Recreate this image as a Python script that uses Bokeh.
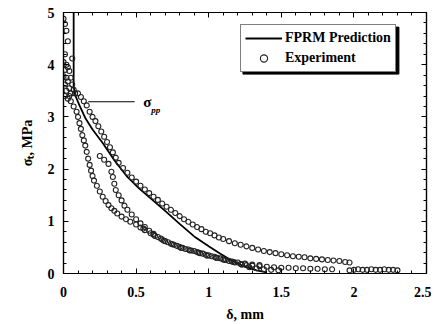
from bokeh.plotting import figure
from bokeh.models import (LinearAxis, FixedTicker, CustomJSTickFormatter, Legend,
                          LegendItem, ColumnDataSource, Range1d)
from bokeh.core.properties import value
from bokeh.embed import file_html
from bokeh.resources import INLINE

FONT = "'Liberation Serif', serif"

# ---- axis ticks ----
x_major = [0, 0.5, 1, 1.5, 2, 2.5]
x_minor = [0.1, 0.2, 0.3, 0.4, 0.6, 0.7, 0.8, 0.9, 1.1, 1.2, 1.3, 1.4,
           1.6, 1.7, 1.8, 1.9, 2.1, 2.2, 2.3, 2.4]
y_major = [0, 1, 2, 3, 4, 5]
y_minor = [0.2, 0.4, 0.6, 0.8, 1.2, 1.4, 1.6, 1.8, 2.2, 2.4, 2.6, 2.8,
           3.2, 3.4, 3.6, 3.8, 4.2, 4.4, 4.6, 4.8]

# ---- FPRM prediction ----
pred_d = [0.07, 0.07, 0.08, 0.11, 0.15, 0.2, 0.27, 0.35, 0.44, 0.52, 0.6,
          0.7, 0.8, 0.9, 1.0, 1.08, 1.17, 1.25, 1.33, 1.4]
pred_s = [5.3, 3.58, 3.42, 3.22, 2.98, 2.76, 2.5, 2.17, 1.85, 1.63, 1.44,
          1.2, 0.95, 0.71, 0.52, 0.38, 0.23, 0.13, 0.06, 0.02]

# ---- experiment ----
expA_d = [0.0, 0.01, 0.02, 0.03, 0.06, 0.01, 0.0, 0.02, 0.03, 0.01, 0.04, 0.0,
          0.02, 0.05, 0.03, 0.01, 0.06, 0.04, 0.02, 0.07, 0.05, 0.01, 0.03, 0.08,
          0.1, 0.12, 0.14, 0.16, 0.18, 0.2, 0.22, 0.24, 0.26, 0.28, 0.3, 0.32,
          0.34, 0.36, 0.38, 0.41, 0.44, 0.47, 0.5, 0.53, 0.56, 0.59, 0.62, 0.65,
          0.68, 0.71, 0.74, 0.77, 0.8, 0.83, 0.86, 0.89, 0.92, 0.95, 0.98, 1.01,
          1.04, 1.07, 1.1, 1.14, 1.18, 1.22, 1.26, 1.3, 1.34, 1.38, 1.42, 1.46,
          1.5, 1.54, 1.58, 1.62, 1.66, 1.7, 1.74, 1.78, 1.82, 1.86, 1.9, 1.94, 1.97]
expA_s = [4.88, 4.78, 4.65, 4.45, 4.12, 4.2, 4.05, 4.0, 3.95, 3.9, 3.88, 3.78,
          3.75, 3.75, 3.68, 3.62, 3.62, 3.55, 3.5, 3.52, 3.45, 3.4, 3.35, 3.45,
          3.45, 3.38, 3.3, 3.22, 3.1, 3.0, 2.92, 2.82, 2.72, 2.62, 2.52, 2.42,
          2.32, 2.22, 2.12, 2.02, 1.93, 1.84, 1.76, 1.68, 1.61, 1.54, 1.47, 1.41,
          1.34, 1.28, 1.22, 1.16, 1.1, 1.04, 0.99, 0.94, 0.89, 0.85, 0.8, 0.77,
          0.73, 0.69, 0.66, 0.62, 0.58, 0.55, 0.52, 0.49, 0.46, 0.43, 0.41, 0.39,
          0.37, 0.35, 0.33, 0.32, 0.31, 0.29, 0.28, 0.27, 0.26, 0.25, 0.24, 0.22, 0.21]

expB_d = [0.04, 0.05, 0.07, 0.09, 0.1, 0.11, 0.12, 0.13, 0.14, 0.15, 0.16, 0.17,
          0.18, 0.19, 0.2, 0.21, 0.23, 0.25, 0.27, 0.29, 0.31, 0.33, 0.35, 0.37,
          0.4, 0.43, 0.46, 0.5, 0.53, 0.56, 0.6, 0.63, 0.67, 0.7, 0.74, 0.78,
          0.82, 0.86, 0.9, 0.94, 0.98, 1.02, 1.06, 1.1, 1.14, 1.18, 1.22, 1.26,
          1.3, 1.35, 1.4, 1.45, 1.5, 1.55, 1.6, 1.65, 1.7, 1.75, 1.8, 1.85]
expB_s = [3.4, 3.3, 3.2, 3.1, 3.0, 2.88, 2.77, 2.65, 2.55, 2.45, 2.33, 2.2,
          2.08, 1.97, 1.87, 1.78, 1.68, 1.57, 1.47, 1.39, 1.31, 1.25, 1.2, 1.15,
          1.09, 1.04, 0.99, 0.94, 0.88, 0.83, 0.77, 0.72, 0.67, 0.62, 0.57, 0.53,
          0.49, 0.46, 0.43, 0.39, 0.36, 0.33, 0.3, 0.27, 0.24, 0.21, 0.18, 0.16,
          0.15, 0.14, 0.13, 0.12, 0.11, 0.11, 0.1, 0.1, 0.09, 0.09, 0.08, 0.08]

expC_d = [0.25, 0.28, 0.31, 0.33, 0.34, 0.35, 0.36, 0.38, 0.4, 0.42, 0.44, 0.47,
          0.5, 0.53, 0.56, 0.59, 0.62, 0.65, 0.68, 0.72, 0.76, 0.8, 0.84, 0.88,
          0.92, 0.96, 1.0, 1.04, 1.08, 1.12, 1.16, 1.2, 1.25, 1.3, 1.35]
expC_s = [2.25, 2.18, 2.1, 1.95, 1.85, 1.72, 1.6, 1.5, 1.4, 1.3, 1.22, 1.13,
          1.04, 0.96, 0.89, 0.82, 0.76, 0.7, 0.65, 0.6, 0.55, 0.51, 0.47, 0.44,
          0.41, 0.38, 0.35, 0.32, 0.29, 0.26, 0.23, 0.21, 0.19, 0.17, 0.16]

# extra scatter inside the dense lower band
expE_d = [0.55, 0.62, 0.69, 0.75, 0.81, 0.87, 0.93, 0.99, 1.05, 1.11, 1.17,
          1.23, 1.28, 1.33, 1.38, 1.43, 1.48]
expE_s = [0.86, 0.74, 0.63, 0.56, 0.49, 0.44, 0.4, 0.34, 0.3, 0.26, 0.22,
          0.17, 0.12, 0.1, 0.08, 0.07, 0.06]

expD_d = [1.97, 2.0, 2.03, 2.06, 2.09, 2.12, 2.15, 2.18, 2.21, 2.24, 2.27, 2.3]
expD_s = [0.06, 0.07, 0.08, 0.07, 0.07, 0.08, 0.07, 0.07, 0.08, 0.07, 0.07, 0.06]

exp_d = expA_d + expB_d + expC_d + expE_d + expD_d
exp_s = expA_s + expB_s + expC_s + expE_s + expD_s

# sigma_pp annotation leader
pp_line_d = [0.17, 0.49]
pp_line_s = [3.29, 3.29]
pp_label_d = 0.55
pp_label_s = 3.29

# legend drop shadow (data-space box behind the legend)
shadow_left, shadow_right = 1.236, 2.31
shadow_bottom, shadow_top = 3.82, 4.72

p = figure(width=431, height=324, output_backend="svg", toolbar_location=None,
           x_range=Range1d(0, 2.5), y_range=Range1d(0, 5),
           min_border_left=63, min_border_right=5, min_border_top=12,
           min_border_bottom=51, background_fill_color="white",
           border_fill_color="white")
p.grid.visible = False
p.outline_line_color = "black"
p.outline_line_width = 1.2

fmt = CustomJSTickFormatter(code="return String(Math.round(tick*10)/10);")
blank = CustomJSTickFormatter(code="return '';")

def style(ax, labels=True):
    ax.axis_line_color = "black"
    ax.axis_line_width = 1.2
    ax.major_tick_in = 5
    ax.major_tick_out = 0
    ax.minor_tick_in = 3
    ax.minor_tick_out = 0
    ax.major_tick_line_color = "black"
    ax.minor_tick_line_color = "black"
    if labels:
        ax.formatter = fmt
        ax.major_label_text_font = FONT
        ax.major_label_text_font_style = "bold"
        ax.major_label_text_font_size = "14px"
        ax.major_label_text_color = "black"
        ax.axis_label_text_font = FONT
        ax.axis_label_text_font_style = "bold"
        ax.axis_label_text_font_size = "14px"
        ax.axis_label_text_color = "black"
    else:
        ax.formatter = blank
        ax.major_label_standoff = 0
        ax.axis_label = None

xt = FixedTicker(ticks=x_major, minor_ticks=x_minor)
yt = FixedTicker(ticks=y_major, minor_ticks=y_minor)

p.xaxis.ticker = xt
p.yaxis.ticker = yt
style(p.xaxis[0])
style(p.yaxis[0])
p.xaxis.axis_label = "δ, mm"
p.yaxis.axis_label = "σₜ, MPa"
p.xaxis.major_label_standoff = 13
p.xaxis.axis_label_standoff = 7
p.yaxis.major_label_standoff = 9
p.yaxis.axis_label_standoff = 10

top_ax = LinearAxis(ticker=FixedTicker(ticks=x_major, minor_ticks=x_minor))
right_ax = LinearAxis(ticker=FixedTicker(ticks=y_major, minor_ticks=y_minor))
style(top_ax, labels=False)
style(right_ax, labels=False)
p.add_layout(top_ax, "above")
p.add_layout(right_ax, "right")

pred_src = ColumnDataSource(dict(x=pred_d, y=pred_s))
exp_src = ColumnDataSource(dict(x=exp_d, y=exp_s))

p.quad(left=[shadow_left], right=[shadow_right], bottom=[shadow_bottom],
       top=[shadow_top], fill_color="black", line_color="black")

r_pred = p.line("x", "y", source=pred_src, line_color="black", line_width=1.8)
r_exp = p.scatter("x", "y", source=exp_src, marker="circle", size=5,
                  fill_color="white", fill_alpha=0.0, line_color="#222222",
                  line_width=1.1)

p.line(pp_line_d, pp_line_s, line_color="black", line_width=1.2)
p.text(x=[pp_label_d], y=[pp_label_s], text=["σ"], text_font=value(FONT),
       text_font_size="15px", text_font_style="bold", text_baseline="middle",
       text_align="left", text_color="black")
p.text(x=[pp_label_d + 0.055], y=[pp_label_s - 0.15], text=["pp"],
       text_font=value(FONT), text_font_size="9px", text_font_style="bold italic",
       text_baseline="middle", text_align="left", text_color="black")

legend = Legend(items=[LegendItem(label="FPRM Prediction", renderers=[r_pred]),
                       LegendItem(label="Experiment", renderers=[r_exp])],
                location=(177, 201), orientation="vertical",
                label_text_font=FONT, label_text_font_style="bold",
                label_text_font_size="14px", label_text_color="black",
                glyph_width=37, glyph_height=18, label_height=18,
                label_standoff=3, spacing=2, padding=4, margin=0,
                border_line_color="black", border_line_width=1.5,
                background_fill_color="white", background_fill_alpha=1.0)
p.add_layout(legend, "center")

open("out.html", "w").write(file_html(p, INLINE))
